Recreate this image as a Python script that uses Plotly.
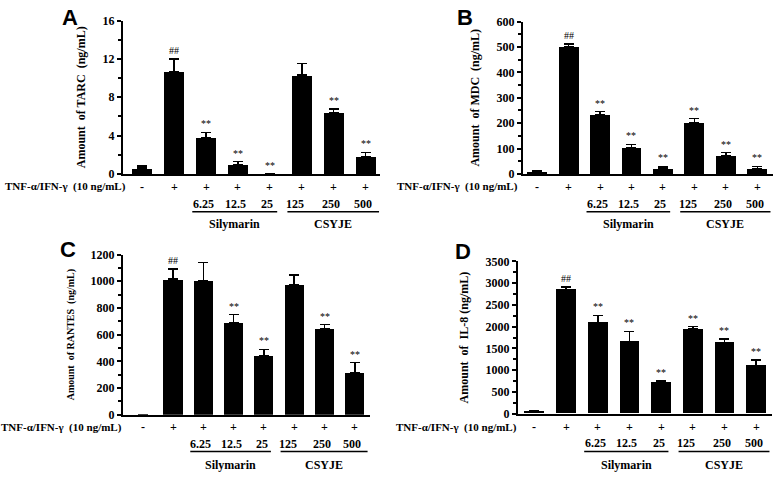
import plotly.graph_objects as go

# treatment rows under each panel
tnf_row = ["-", "+", "+", "+", "+", "+", "+", "+"]
doses = ["", "", "6.25", "12.5", "25", "125", "250", "500"]
group_names = ["Silymarin", "CSYJE"]

# panel A - TARC
tarc = [0.6, 10.7, 3.8, 0.95, 0.0, 10.3, 6.4, 1.8]
tarc_err = [0.25, 1.3, 0.55, 0.35, None, 1.2, 0.4, 0.45]
tarc_sig = ["", "##", "**", "**", "**", "", "**", "**"]

# panel B - MDC
mdc = [10, 502, 235, 105, 23, 203, 72, 20]
mdc_err = [3, 10, 10, 12, 7, 15, 12, 10]
mdc_sig = ["", "##", "**", "**", "**", "**", "**", "**"]

# panel C - RANTES
rantes = [0, 1015, 1005, 690, 445, 975, 645, 315]
rantes_err = [None, 75, 135, 60, 45, 70, 30, 75]
rantes_sig = ["", "##", "", "**", "**", "", "**", "**"]

# panel D - IL-8
il8 = [60, 2850, 2100, 1660, 730, 1950, 1640, 1110]
il8_err = [15, 60, 160, 230, 30, 50, 80, 130]
il8_sig = ["", "##", "**", "**", "**", "**", "**", "**"]

W, H = 778, 479
SERIF = "Liberation Serif, Times New Roman, serif"
SANS = "Liberation Sans, Arial, sans-serif"


def px(x):
    return x / W


def py(y):
    return 1 - y / H


panels = [
    dict(letter="A", vals=tarc, err=tarc_err, sig=tarc_sig, title="Amount  of TARC  (ng/mL)", tsize=12,
         yr=[0, 16], dt=4, xd=[123, 380], yd=[172, 14], xr=[-0.6, 7.45],
         letter_xy=(70, 11), tnf_x=(5, 126), rows=(185, 203, 211, 224)),
    dict(letter="B", vals=mdc, err=mdc_err, sig=mdc_sig, title="Amount  of MDC  (ng/mL)", tsize=12,
         yr=[0, 600], dt=100, xd=[523, 773], yd=[172, 15], xr=[-0.45, 7.5],
         letter_xy=(465, 11), tnf_x=(395, 520), rows=(185, 203, 211, 224)),
    dict(letter="C", vals=rantes, err=rantes_err, sig=rantes_sig, title="Amount  of RANTES  (ng/mL)", tsize=10,
         yr=[0, 1200], dt=200, xd=[123, 370], yd=[420, 255], xr=[-0.65, 7.5],
         letter_xy=(68, 250), tnf_x=(1, 121), rows=(433, 450, 458, 472)),
    dict(letter="D", vals=il8, err=il8_err, sig=il8_sig, title="Amount  of  IL-8 (ng/mL)", tsize=12,
         yr=[0, 3500], dt=500, xd=[518, 772], yd=[419, 262], xr=[-0.52, 7.5],
         letter_xy=(463, 252), tnf_x=(395, 518), rows=(433, 449, 458, 472)),
]

fig = go.Figure()
annotations = []
shapes = []


def note(**kw):
    kw.setdefault("showarrow", False)
    kw.setdefault("xanchor", "center")
    kw.setdefault("yanchor", "middle")
    annotations.append(kw)


for i, p in enumerate(panels):
    n = "" if i == 0 else str(i + 1)
    xa, ya = "x" + n, "y" + n
    idx = list(range(len(p["vals"])))
    fig.add_trace(go.Bar(
        x=idx, y=p["vals"], xaxis=xa, yaxis=ya, width=0.63,
        marker=dict(color="black", line=dict(width=0)),
        error_y=dict(type="data", array=p["err"], arrayminus=[0] * len(idx),
                     symmetric=False, color="black", thickness=1.5, width=5),
        showlegend=False,
    ))
    fig.layout["xaxis" + n] = dict(
        domain=[px(p["xd"][0]), px(p["xd"][1])], range=p["xr"], anchor=ya,
        showticklabels=False, ticks="", showgrid=False, zeroline=False,
        showline=True, linecolor="black", linewidth=2,
    )
    fig.layout["yaxis" + n] = dict(
        domain=[py(p["yd"][0]), py(p["yd"][1])], range=p["yr"], anchor=xa,
        dtick=p["dt"], ticks="outside", ticklen=4, tickwidth=1.5, tickcolor="black",
        minor=dict(dtick=p["dt"] / 2, ticks="outside", ticklen=3, tickwidth=1.5, tickcolor="black"),
        showgrid=False, zeroline=False, showline=True, linecolor="black", linewidth=2,
        tickfont=dict(family=SERIF, size=12, color="black", weight="bold"),
        title=dict(text=p["title"], standoff=14,
                   font=dict(family=SERIF, size=p["tsize"], color="black", weight="bold")),
    )
    # significance marks
    for k in idx:
        if p["sig"][k]:
            note(x=k, y=p["vals"][k] + (p["err"][k] or 0), xref=xa, yref=ya,
                 text=p["sig"][k], yanchor="bottom", yshift=1,
                 font=dict(family=SERIF, size=10, color="black"))
    r_tnf, r_dose, r_line, r_grp = p["rows"]
    # +/- row
    for k in idx:
        note(x=k, y=py(r_tnf), xref=xa, yref="paper", text=tnf_row[k],
             font=dict(family=SERIF, size=12, color="black", weight="bold"))
    # dose row
    for k in idx:
        if doses[k]:
            note(x=k - (0.2 if k == 5 else 0.08), y=py(r_dose), xref=xa, yref="paper",
                 text=doses[k], font=dict(family=SERIF, size=12, color="black", weight="bold"))
    # group underlines and names
    for (x0, x1), name in zip([(1.57, 4.23), (4.55, 7.42)], group_names):
        shapes.append(dict(type="line", xref=xa, yref="paper", x0=x0, x1=x1,
                           y0=py(r_line), y1=py(r_line), line=dict(color="black", width=1.5)))
        note(x=(x0 + x1) / 2, y=py(r_grp), xref=xa, yref="paper", text=name,
             font=dict(family=SERIF, size=12, color="black", weight="bold"))
    note(x=px((p["tnf_x"][0] + p["tnf_x"][1]) / 2), y=py(r_tnf), xref="paper", yref="paper",
         text="TNF-α/IFN-γ  (10 ng/mL)",
         font=dict(family=SERIF, size=11, color="black", weight="bold"))
    note(x=px(p["letter_xy"][0]), y=py(p["letter_xy"][1]), xref="paper", yref="paper",
         text=p["letter"], font=dict(family=SANS, size=22, color="black", weight="bold"))

fig.update_layout(
    width=W, height=H, margin=dict(l=0, r=0, t=0, b=0),
    paper_bgcolor="white", plot_bgcolor="white",
    annotations=annotations, shapes=shapes, bargap=0,
)

# the page's default 8px body margin would push the figure off the window
fig.write_html("out.html", config={"displayModeBar": False},
               post_script="document.body.style.margin='0';")
